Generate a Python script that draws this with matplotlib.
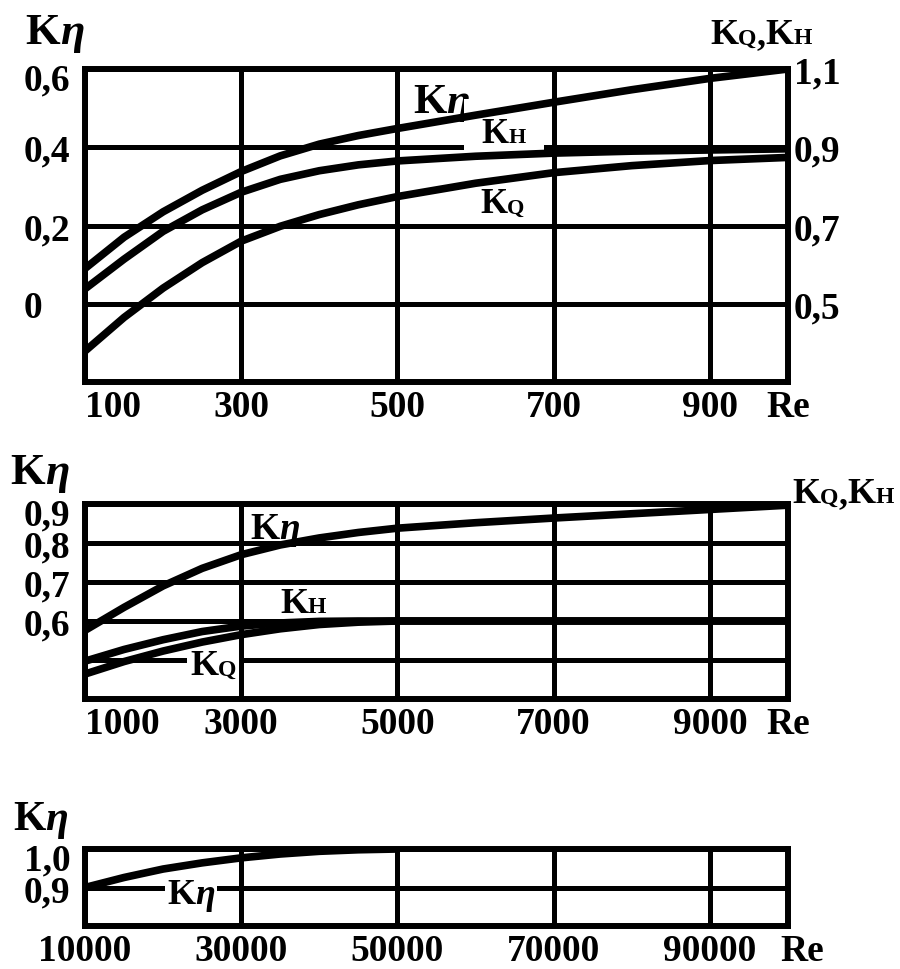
import matplotlib
matplotlib.use("Agg")
import matplotlib.pyplot as plt
from matplotlib.offsetbox import TextArea, HPacker, AnnotationBbox
from matplotlib.transforms import ScaledTranslation

plt.rcParams['font.family'] = ['Liberation Serif', 'DejaVu Serif']
plt.rcParams['font.weight'] = 'bold'

# ---------------- data ----------------
# Panel 1: Re 100..1000 ; K_eta on left axis, K_Q / K_H on right axis
re1 = [100, 150, 200, 250, 300, 350, 400, 450, 500, 600, 700, 800, 900, 1000]
keta1 = [0.09, 0.17, 0.235, 0.29, 0.338, 0.378, 0.408, 0.43, 0.448, 0.482, 0.515, 0.547, 0.576, 0.60]
kh1 = [0.538, 0.614, 0.685, 0.74, 0.785, 0.818, 0.84, 0.855, 0.865, 0.877, 0.885, 0.89, 0.893, 0.896]
kq1 = [0.379, 0.465, 0.54, 0.605, 0.66, 0.698, 0.728, 0.753, 0.774, 0.808, 0.835, 0.853, 0.866, 0.874]

# Panel 2: Re 1000..10000
re2 = [1000, 1500, 2000, 2500, 3000, 3500, 4000, 4500, 5000, 6000, 7000, 8000, 9000, 10000]
keta2 = [0.576, 0.635, 0.69, 0.735, 0.77, 0.795, 0.813, 0.827, 0.838, 0.852, 0.864, 0.875, 0.886, 0.897]
kh2 = [0.497, 0.527, 0.552, 0.573, 0.587, 0.595, 0.599, 0.60, 0.60, 0.60, 0.60, 0.60, 0.60, 0.60]
kq2 = [0.464, 0.496, 0.523, 0.546, 0.565, 0.58, 0.591, 0.597, 0.60, 0.60, 0.60, 0.60, 0.60, 0.60]

# Panel 3: Re 10000..100000
re3 = [10000, 15000, 20000, 25000, 30000, 35000, 40000, 45000, 50000]
keta3 = [0.90, 0.926, 0.948, 0.964, 0.977, 0.987, 0.994, 0.998, 1.0]

# ticks
xt1 = [100, 300, 500, 700, 900, 1000]
xl1 = ['100', '300', '500', '700', '900', 'Re']
yt1 = [-0.2, 0.0, 0.2, 0.4, 0.6]
yl1 = ['', '0', '0,2', '0,4', '0,6']
yt1r = [0.5, 0.7, 0.9, 1.1]
yl1r = ['0,5', '0,7', '0,9', '1,1']

xt2 = [1000, 3000, 5000, 7000, 9000, 10000]
xl2 = ['1000', '3000', '5000', '7000', '9000', 'Re']
yt2 = [0.4, 0.5, 0.6, 0.7, 0.8, 0.9]
yl2 = ['', '', '0,6', '0,7', '0,8', '0,9']

xt3 = [10000, 30000, 50000, 70000, 90000, 100000]
xl3 = ['10000', '30000', '50000', '70000', '90000', 'Re']
yt3 = [0.8, 0.9, 1.0]
yl3 = ['', '0,9', '1,0']

# ---------------- figure ----------------
W, H = 900, 970
fig = plt.figure(figsize=(W / 100, H / 100), dpi=100)

SPINE_LW = 4.3
GRID_LW = 3.6
CURVE_LW = 5.5
YTICK_FS = 27
XTICK_FS = 27


def px_axes(left, top, right, bottom):
    return fig.add_axes([left / W, 1 - bottom / H, (right - left) / W, (bottom - top) / H])


def shift(artist, dx_pt, dy_pt):
    artist.set_transform(artist.get_transform() +
                         ScaledTranslation(dx_pt / 72, dy_pt / 72, fig.dpi_scale_trans))


def style_axes(ax, xt, xl, yt, yl, xlim, ylim, first_left=True):
    ax.set_xlim(*xlim)
    ax.set_ylim(*ylim)
    ax.set_xticks(xt)
    ax.set_xticklabels(xl, fontsize=XTICK_FS, fontweight='bold')
    ax.set_yticks(yt)
    ax.set_yticklabels(yl, fontsize=YTICK_FS, fontweight='bold')
    ax.tick_params(axis='both', length=0)
    ax.tick_params(axis='x', pad=5)
    ax.tick_params(axis='y', pad=44)
    for lab in ax.get_yticklabels():
        lab.set_horizontalalignment('left')
    # the top label sits a little below the top border, as in the original
    shift(ax.get_yticklabels()[-1], 0, -5)
    if first_left:
        ax.get_xticklabels()[0].set_horizontalalignment('left')
    ax.grid(True, color='black', lw=GRID_LW)
    ax.set_axisbelow(True)
    for sp in ax.spines.values():
        sp.set_linewidth(SPINE_LW)
        sp.set_capstyle('projecting')
        sp.set_color('black')


def comp(parts):
    kids = []
    for txt, size, italic in parts:
        kids.append(TextArea(txt, textprops=dict(fontsize=size, fontweight='bold',
                                                 fontstyle='italic' if italic else 'normal',
                                                 family=['Liberation Serif', 'DejaVu Serif'])))
    return HPacker(children=kids, align='baseline', pad=0, sep=0)


def label(target, parts, xy, coords, align=(0, 0.5), box=False, pad=0.2, z=2):
    ab = AnnotationBbox(comp(parts), xy, xycoords=coords, box_alignment=align,
                        frameon=box, pad=pad, annotation_clip=False,
                        bboxprops=dict(fc='white', ec='none'))
    ab.set_zorder(z)
    target.add_artist(ab)
    return ab


def fpx(x, y):
    return (x, H - y)


def line(ax, x, y):
    ax.plot(x, y, color='black', lw=CURVE_LW, solid_capstyle='round', zorder=3)


# ---- panel 1 ----
ax1 = px_axes(85, 70, 788, 383)
style_axes(ax1, xt1, xl1, yt1, yl1, (100, 1000), (-0.2, 0.6))
ax1r = ax1.twinx()
ax1r.set_ylim(0.3, 1.1)
ax1r.set_yticks(yt1r)
ax1r.set_yticklabels(yl1r, fontsize=YTICK_FS, fontweight='bold')
ax1r.tick_params(axis='y', length=0, pad=4)
for sp in ax1r.spines.values():
    sp.set_visible(False)
line(ax1, re1, keta1)
line(ax1r, re1, kh1)
line(ax1r, re1, kq1)

label(ax1, [('K', 31, False), ('η', 31, True)], (520, 0.516), 'data')
label(ax1, [('K', 25, False), ('H', 16, False)], (608, 0.434), 'data', box=True, pad=1.3)
label(ax1, [('K', 25, False), ('Q', 16, False)], (606, 0.255), 'data')

# ---- panel 2 ----
ax2 = px_axes(85, 505, 788, 700)
style_axes(ax2, xt2, xl2, yt2, yl2, (1000, 10000), (0.4, 0.9))
line(ax2, re2, keta2)
line(ax2, re2, kh2)
line(ax2, re2, kq2)
label(ax2, [('K', 27, False), ('η', 27, True)], (3112, 0.836), 'data')
label(ax2, [('K', 26, False), ('H', 17, False)], (3496, 0.644), 'data')
label(ax2, [('K', 26, False), ('Q', 17, False)], (2344, 0.485), 'data', box=True, pad=0.2)

# ---- panel 3 ----
ax3 = px_axes(85, 850, 788, 927)
style_axes(ax3, xt3, xl3, yt3, yl3, (10000, 100000), (0.8, 1.0), first_left=False)
shift(ax3.get_xticklabels()[-1], 10, 0)
line(ax3, re3, keta3)
label(ax3, [('K', 26, False), ('η', 26, True)], (20500, 0.883), 'data', box=True, pad=0.15)

# ---- axis titles ----
label(fig, [('K', 32, False), ('η', 32, True)], fpx(25, 33), 'figure pixels')
label(fig, [('K', 26, False), ('Q', 17, False), (',', 26, False), ('K', 26, False), ('H', 17, False)],
      fpx(710, 36), 'figure pixels')
label(fig, [('K', 32, False), ('η', 32, True)], fpx(10, 473), 'figure pixels')
label(fig, [('K', 26, False), ('Q', 17, False), (',', 26, False), ('K', 26, False), ('H', 17, False)],
      fpx(792, 495), 'figure pixels')
label(fig, [('K', 30, False), ('η', 30, True)], fpx(13, 820), 'figure pixels')

fig.savefig('out.png', dpi=100, facecolor='white')
